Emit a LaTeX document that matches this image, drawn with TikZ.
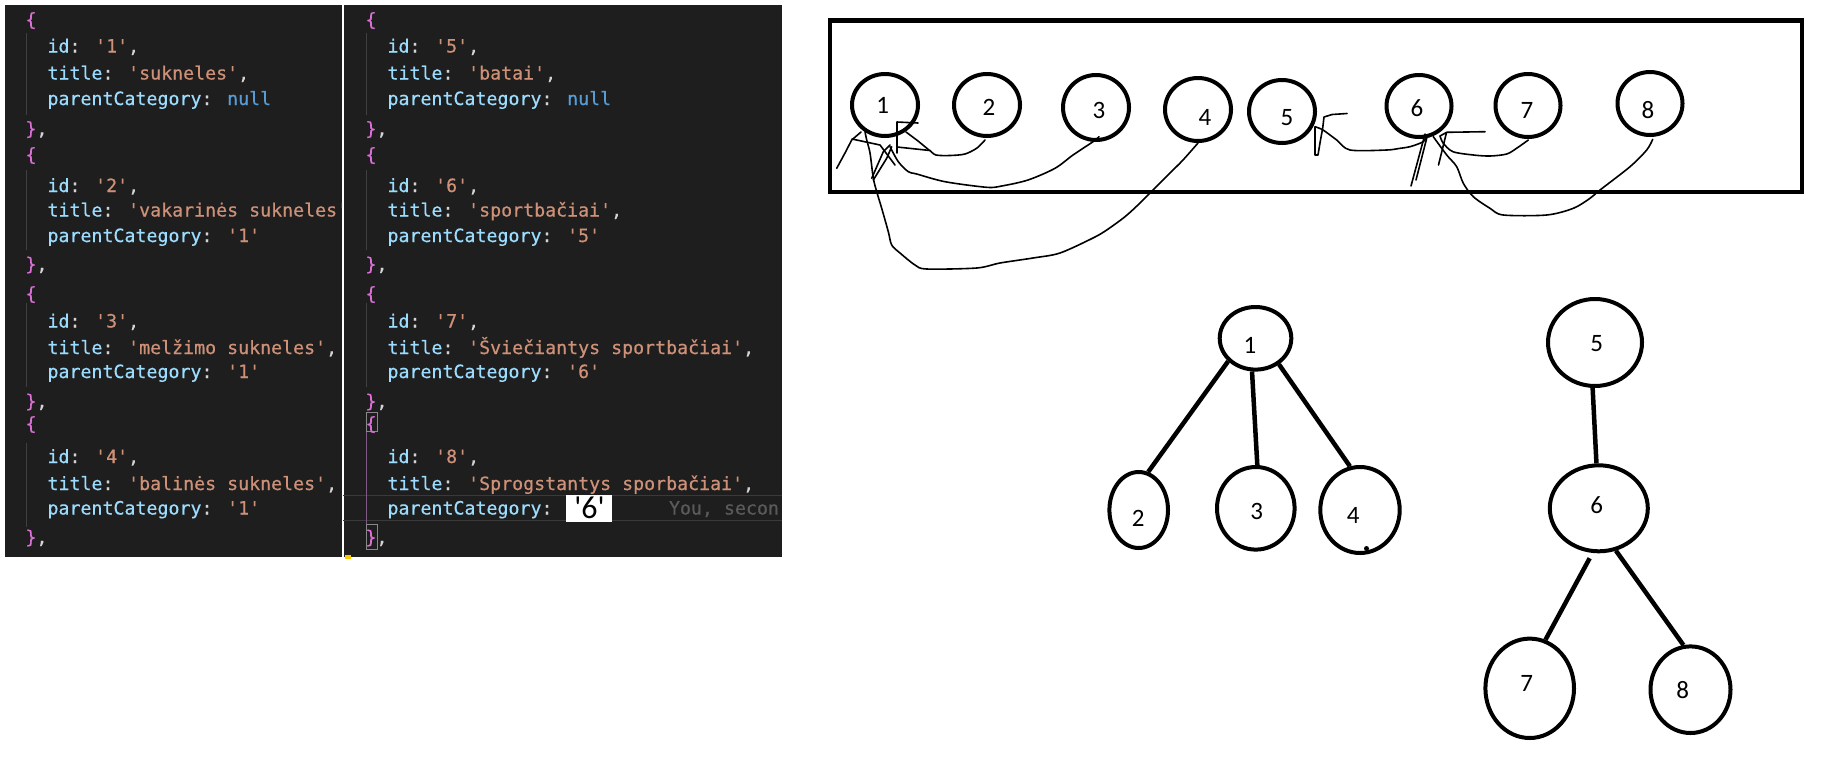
\documentclass[tikz,border=0pt]{standalone}
\usepackage{fontspec}
\newfontfamily\codefont[Ligatures=TeXOff,FakeBold=0.5]{DejaVu Sans Mono}
\newfontfamily\handfont[Ligatures=TeXOff]{Carlito}
\usetikzlibrary{shapes.geometric}
\definecolor{bgdark}{HTML}{1E1E1E}
\definecolor{keyc}{HTML}{9CDCFE}
\definecolor{strc}{HTML}{CE9178}
\definecolor{nullc}{HTML}{569CD6}
\definecolor{punc}{HTML}{D4D4D4}
\definecolor{bracec}{HTML}{DA70D6}
\definecolor{guidec}{HTML}{404040}
\definecolor{activeguide}{HTML}{7F5A83}
\definecolor{blamec}{HTML}{5A5A5A}
\definecolor{hlc}{HTML}{3A3A3A}
\definecolor{matchc}{HTML}{888888}
\definecolor{cursorc}{HTML}{FFCC00}
\newcommand{\codeK}[1]{\textcolor{keyc}{#1}}
\newcommand{\codeS}[1]{\textcolor{strc}{#1}}
\newcommand{\codeN}[1]{\textcolor{nullc}{#1}}
\newcommand{\codeP}[1]{\textcolor{punc}{#1}}
\newcommand{\codeB}[1]{\textcolor{bracec}{#1}}
\begin{document}
\begin{tikzpicture}[x=1pt,y=-1pt,
  code/.style={anchor=base west, inner sep=0pt, outer sep=0pt, font=\codefont\fontsize{18.27}{22}\selectfont},
  topc/.style={draw, ellipse, line width=4pt, inner sep=0pt, minimum width=66pt, minimum height=63pt},
  treec/.style={draw, ellipse, line width=4pt, inner sep=0pt},
  lab/.style={inner sep=0pt, font=\handfont\fontsize{25}{25}\selectfont},
  treeedge/.style={line width=4.5pt},
  scrib/.style={line width=1.6pt, line join=round, line cap=round},
  guide/.style={guidec, line width=1pt}]
\useasboundingbox (0,0) rectangle (1831,780);
\fill[white] (0,0) rectangle (1831,780);
% ---------- code panels ----------
\fill[bgdark] (5,5) rectangle (342,557);
\fill[bgdark] (344,5) rectangle (782,557);
\draw[hlc, line width=1.2pt] (343,495.5) -- (782,495.5);
\draw[hlc, line width=1.2pt] (343,520.5) -- (782,520.5);
\foreach \a/\b in {33/115,170/250,303/387,443/527}{\draw[guide] (26.5,\a) -- (26.5,\b);}
\foreach \a/\b in {33/115,170/250,303/387}{\draw[guide] (366.5,\a) -- (366.5,\b);}
\draw[activeguide, line width=1pt] (366.5,431) -- (366.5,524);
\draw[matchc, line width=1pt] (366,412.5) rectangle (377,431);
\draw[matchc, line width=1pt] (366,524.5) rectangle (377,549);
\begin{scope}
\clip (5,5) rectangle (342,557);
\node[code] (a0) at (25.5,26) {\codeB{\{}};
\node[code] (a1) at (47.5,52.5) {\codeK{id}\codeP{: }\codeS{'1'}\codeP{,}};
\node[code] (a2) at (47.5,79.5) {\codeK{title}\codeP{: }\codeS{'sukneles'}\codeP{,}};
\node[code] (a3) at (47.5,105) {\codeK{parentCategory}\codeP{: }\codeN{null}};
\node[code] (a4) at (25.5,135) {\codeB{\}}\codeP{,}};
\node[code] (a5) at (25.5,161) {\codeB{\{}};
\node[code] (a6) at (47.5,192) {\codeK{id}\codeP{: }\codeS{'2'}\codeP{,}};
\node[code] (a7) at (47.5,216.5) {\codeK{title}\codeP{: }\codeS{'vakarinės sukneles'}};
\node[code] (a8) at (47.5,242) {\codeK{parentCategory}\codeP{: }\codeS{'1'}};
\node[code] (a9) at (25.5,270.5) {\codeB{\}}\codeP{,}};
\node[code] (a10) at (25.5,300) {\codeB{\{}};
\node[code] (a11) at (47.5,327.5) {\codeK{id}\codeP{: }\codeS{'3'}\codeP{,}};
\node[code] (a12) at (47.5,354) {\codeK{title}\codeP{: }\codeS{'melžimo sukneles'}\codeP{,}};
\node[code] (a13) at (47.5,378) {\codeK{parentCategory}\codeP{: }\codeS{'1'}};
\node[code] (a14) at (25.5,407.5) {\codeB{\}}\codeP{,}};
\node[code] (a15) at (25.5,430) {\codeB{\{}};
\node[code] (a16) at (47.5,463) {\codeK{id}\codeP{: }\codeS{'4'}\codeP{,}};
\node[code] (a17) at (47.5,490) {\codeK{title}\codeP{: }\codeS{'balinės sukneles'}\codeP{,}};
\node[code] (a18) at (47.5,514.5) {\codeK{parentCategory}\codeP{: }\codeS{'1'}};
\node[code] (a19) at (25.5,543.5) {\codeB{\}}\codeP{,}};
\end{scope}
\begin{scope}
\clip (344,5) rectangle (782,557);
\node[code] (b0) at (365.5,26) {\codeB{\{}};
\node[code] (b1) at (387.5,52.5) {\codeK{id}\codeP{: }\codeS{'5'}\codeP{,}};
\node[code] (b2) at (387.5,79.5) {\codeK{title}\codeP{: }\codeS{'batai'}\codeP{,}};
\node[code] (b3) at (387.5,105) {\codeK{parentCategory}\codeP{: }\codeN{null}};
\node[code] (b4) at (365.5,135) {\codeB{\}}\codeP{,}};
\node[code] (b5) at (365.5,161) {\codeB{\{}};
\node[code] (b6) at (387.5,192) {\codeK{id}\codeP{: }\codeS{'6'}\codeP{,}};
\node[code] (b7) at (387.5,216.5) {\codeK{title}\codeP{: }\codeS{'sportbačiai'}\codeP{,}};
\node[code] (b8) at (387.5,242) {\codeK{parentCategory}\codeP{: }\codeS{'5'}};
\node[code] (b9) at (365.5,270.5) {\codeB{\}}\codeP{,}};
\node[code] (b10) at (365.5,300) {\codeB{\{}};
\node[code] (b11) at (387.5,327.5) {\codeK{id}\codeP{: }\codeS{'7'}\codeP{,}};
\node[code] (b12) at (387.5,354) {\codeK{title}\codeP{: }\codeS{'Šviečiantys sportbačiai'}\codeP{,}};
\node[code] (b13) at (387.5,378) {\codeK{parentCategory}\codeP{: }\codeS{'6'}};
\node[code] (b14) at (365.5,407.5) {\codeB{\}}\codeP{,}};
\node[code] (b15) at (365.5,430) {\codeB{\{}};
\node[code] (b16) at (387.5,463) {\codeK{id}\codeP{: }\codeS{'8'}\codeP{,}};
\node[code] (b17) at (387.5,490) {\codeK{title}\codeP{: }\codeS{'Sprogstantys sporbačiai'}\codeP{,}};
\node[code] (b18) at (387.5,514.5) {\codeK{parentCategory}\codeP{:}};
\node[code, text=blamec] (blame) at (669,514.5) {You, secon};
\node[code] (b19) at (365.5,543.5) {\codeB{\}}\codeP{,}};
\end{scope}
\fill[white] (566,495) rectangle (612,522);
\node[anchor=base, inner sep=0pt, text=black, font=\handfont\fontsize{32}{32}\selectfont] (pasted) at (589.5,518) {'6'};
\fill[cursorc] (345,555) rectangle (351,559);
% ---------- hand drawing: flat list ----------
\draw[line width=4.3pt] (830,20.5) rectangle (1802,192);
\node[topc, minimum height=62pt] (n1) at (885,105) {};
\node[topc, minimum height=62pt] (n2) at (987,105) {};
\node[topc, minimum height=65pt] (n3) at (1096,107.5) {};
\node[topc] (n4) at (1198,109.5) {};
\node[topc] (n5) at (1282,111.5) {};
\node[topc, minimum width=65pt, minimum height=62pt] (n6) at (1419,106) {};
\node[topc, minimum width=65pt] (n7) at (1528,105.5) {};
\node[topc, minimum width=65pt] (n8) at (1650,103.5) {};
\node[lab] (l1) at (882.7,105) {1};
\node[lab] (l2) at (989,107) {2};
\node[lab] (l3) at (1099,110) {3};
\node[lab] (l4) at (1205,117) {4};
\node[lab] (l5) at (1287,118) {5};
\node[lab] (l6) at (1417,108) {6};
\node[lab] (l7) at (1527,110) {7};
\node[lab] (l8) at (1648,110) {8};
% scribbled links towards 1
\draw[scrib] plot[smooth, tension=0.5] coordinates {(985,140) (977,148) (965,154) (950,155.5) (936,155) (930,150.5)};
\draw[scrib] (930,150.5) -- (897,147);
\draw[scrib] (897,153) -- (897,122) -- (918,123);
\draw[scrib] (906,132) -- (918,141) -- (929,150);
\draw[scrib] plot[smooth, tension=0.5] coordinates {(890,146.7) (898.3,161.7) (908.3,171.7) (916.7,174) (945,181.7) (986.7,187.3) (1001.7,186) (1028,180) (1055,168.3) (1073,155) (1093,141.7) (1099,136.7)};
\draw[scrib] plot[smooth, tension=0.5] coordinates {(1198,143) (1183,160) (1170,173) (1153,190) (1140,203) (1125,216.7) (1106.7,230) (1093,238) (1060,253) (1033,258) (1000,263) (976.7,268) (926.7,269) (915,265) (900,253) (891.7,245) (888.3,231.7) (881.7,208.3) (876.7,191.7) (873.3,178) (870,153) (866.7,140) (865,131.7)};
\draw[scrib] (836.7,168.3) -- (845,153) -- (851.7,140) -- (861,132);
\draw[scrib] (852,139) -- (880,145) -- (895,165);
\draw[scrib] (871.7,178.3) -- (883.3,151.7) -- (890,145);
\draw[scrib] (873.3,180) -- (886.7,158.3) -- (891.7,146.7);
% scribbled links towards 5 and 6
\draw[scrib] (1315,127) -- (1315,155) -- (1318,155) -- (1320.5,140) -- (1322.7,128) -- (1324,117) -- (1332,114.5) -- (1347,113.5);
\draw[scrib] plot[smooth, tension=0.5] coordinates {(1315,126.7) (1323,130) (1336.7,140) (1350,150) (1386.7,150) (1400,148.3) (1410,146.7) (1423.3,141.7) (1427,136)};
\draw[scrib] (1425,134) -- (1411,186);
\draw[scrib] (1427,137) -- (1416,180);
\draw[scrib] plot[smooth, tension=0.5] coordinates {(1528.3,140) (1517,148) (1506.7,154) (1490,156) (1473.3,155) (1453,151.7) (1443.3,143.3) (1440,136)};
\draw[scrib] (1485,131.7) -- (1446.7,132.3) -- (1440,136);
\draw[scrib] (1446.5,132.5) -- (1438.5,165);
\draw[scrib] plot[smooth, tension=0.5] coordinates {(1652.7,139.3) (1646.7,150) (1630,166.7) (1600,190) (1590,198.3) (1573.3,208.3) (1546.7,215) (1503.3,215) (1490,208.3) (1473.3,196.7) (1463.3,183.3) (1456.7,166.7) (1446.7,155) (1433.3,136.7)};
% ---------- trees ----------
\node[treec, minimum width=71.6pt, minimum height=62.6pt] (t1) at (1255.5,338.3) {};
\node[treec, minimum width=58.6pt, minimum height=76pt] (t2) at (1138.7,510) {};
\node[treec, minimum width=77.6pt, minimum height=82.6pt] (t3) at (1255.8,508.3) {};
\node[treec, minimum width=79.4pt, minimum height=86pt] (t4) at (1360,510) {};
\node[treec, minimum width=94pt, minimum height=87pt] (t5) at (1595,342.5) {};
\node[treec, minimum width=98pt, minimum height=86pt] (t6) at (1598.8,508.3) {};
\node[treec, minimum width=88.6pt, minimum height=99.4pt] (t7) at (1529.7,688.3) {};
\node[treec, minimum width=80pt, minimum height=86.6pt] (t8) at (1690.5,689.7) {};
\fill (1366.5,548.5) circle (2.5pt);
\node[lab] (m1) at (1250,345) {1};
\node[lab] (m2) at (1138.3,518.3) {2};
\node[lab] (m3) at (1256.7,511.7) {3};
\node[lab] (m4) at (1353.3,515) {4};
\node[lab] (m5) at (1596.7,343.3) {5};
\node[lab] (m6) at (1596.7,505) {6};
\node[lab] (m7) at (1526.7,683.3) {7};
\node[lab] (m8) at (1682.7,690) {8};
\draw[treeedge] (t1.220) -- (t2.76);
\draw[treeedge] (t1.264) -- (t3.88);
\draw[treeedge] (t1.312) -- (t4.103);
\draw[treeedge] (t5.267) -- (t6.93);
\draw[treeedge, shorten <=6pt] (t6.262) -- (t7.72);
\draw[treeedge] (t6.292) -- (t8.99);
\end{tikzpicture}
\end{document}
